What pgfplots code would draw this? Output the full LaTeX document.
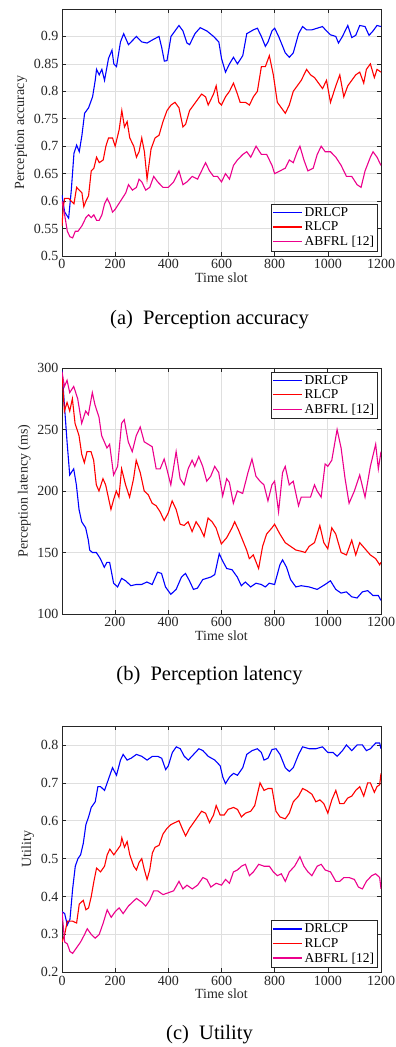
\documentclass[border=0pt]{standalone}
\usepackage{pgfplots}
\pgfplotsset{compat=1.18}
\usepackage{fontspec}
\setmainfont{Liberation Serif}
\definecolor{axgray}{RGB}{38,38,38}
\definecolor{gridgray}{RGB}{223,223,223}
\pgfplotsset{
 legend image code/.code={\draw[#1, line width=1.5pt] (0pt,0.3pt) -- (29pt,0.3pt);},
 mystyle/.style={
  scale only axis, width=319pt,
  xmax=1200,
  tick align=inside, xtick pos=both, ytick pos=both,
  major tick length=4pt,
  grid=major, major grid style={gridgray, line width=0.6pt},
  axis line style={axgray, line width=0.6pt},
  tick style={axgray, line width=0.6pt},
  tick label style={font=\fontsize{14}{16}\selectfont, text=axgray},
  label style={font=\fontsize{14}{16}\selectfont, text=axgray},
  /pgf/number format/assume math mode=true,
  /pgf/number format/set thousands separator={},
  legend style={font=\fontsize{13.5}{16}\selectfont, draw=axgray, inner sep=1.5pt, cells={anchor=west}},
  every axis plot/.append style={line width=1.1pt},
  xlabel={Time slot},
  xlabel style={yshift=3pt},
 }
}
\begin{document}
\begin{tikzpicture}
\useasboundingbox (0pt,0pt) rectangle (396pt,1047pt);
% ---------- (a) ----------
\begin{axis}[mystyle, at={(62pt,791pt)}, anchor=south west, height=247pt,
  xmin=0, ymin=0.5, ymax=0.95,
  xtick={0,200,400,600,800,1000,1200},
  ytick={0.5,0.55,0.6,0.65,0.7,0.75,0.8,0.85,0.9},
  yticklabels={0.5,0.55,0.6,0.65,0.7,0.75,0.8,0.85,0.9},
  ylabel={Perception accuracy},
  legend style={at={(0.99,0.02)}, anchor=south east}]
\addplot[blue] coordinates {(0,0.611)(10,0.58)(25,0.569)(35,0.62)(45,0.687)(55,0.702)(65,0.69)(75,0.72)(85,0.76)(100,0.77)(115,0.79)(125,0.82)(130,0.84)(140,0.83)(150,0.84)(160,0.82)(175,0.86)(188,0.875)(195,0.85)(205,0.845)(220,0.89)(232,0.905)(250,0.885)(270,0.895)(280,0.90)(300,0.89)(320,0.888)(345,0.895)(365,0.90)(375,0.88)(385,0.855)(395,0.856)(410,0.90)(440,0.92)(455,0.91)(470,0.888)(480,0.885)(500,0.905)(520,0.916)(545,0.91)(570,0.90)(590,0.89)(600,0.86)(615,0.835)(630,0.85)(645,0.862)(660,0.85)(680,0.865)(695,0.905)(720,0.912)(735,0.915)(750,0.90)(765,0.882)(775,0.89)(790,0.91)(800,0.915)(815,0.90)(840,0.87)(855,0.862)(870,0.87)(890,0.905)(905,0.918)(920,0.912)(940,0.912)(960,0.915)(980,0.918)(995,0.91)(1010,0.903)(1030,0.90)(1040,0.888)(1055,0.90)(1070,0.915)(1075,0.92)(1090,0.898)(1105,0.902)(1120,0.92)(1140,0.918)(1155,0.902)(1170,0.91)(1185,0.92)(1200,0.918)};
\addlegendentry{DRLCP}
\addplot[red] coordinates {(0,0.555)(5,0.59)(10,0.605)(25,0.605)(35,0.60)(45,0.595)(55,0.625)(65,0.62)(75,0.615)(82,0.59)(90,0.60)(100,0.61)(110,0.655)(120,0.66)(130,0.68)(140,0.67)(155,0.675)(165,0.70)(175,0.715)(190,0.715)(200,0.70)(215,0.73)(225,0.765)(235,0.735)(245,0.745)(255,0.715)(270,0.70)(280,0.68)(290,0.69)(300,0.715)(310,0.69)(320,0.64)(335,0.695)(350,0.715)(365,0.72)(380,0.745)(395,0.765)(410,0.775)(425,0.78)(440,0.77)(455,0.735)(465,0.74)(480,0.765)(495,0.775)(510,0.785)(525,0.795)(540,0.79)(550,0.775)(570,0.795)(580,0.81)(590,0.78)(600,0.775)(615,0.79)(630,0.80)(645,0.815)(660,0.795)(670,0.78)(690,0.78)(705,0.775)(720,0.79)(735,0.80)(750,0.845)(765,0.845)(780,0.865)(795,0.83)(810,0.78)(825,0.77)(840,0.76)(855,0.775)(870,0.80)(885,0.81)(900,0.82)(920,0.84)(935,0.83)(950,0.825)(965,0.815)(980,0.805)(995,0.82)(1010,0.78)(1030,0.81)(1045,0.83)(1060,0.79)(1075,0.81)(1090,0.82)(1105,0.83)(1120,0.835)(1135,0.815)(1145,0.84)(1160,0.85)(1175,0.825)(1185,0.84)(1200,0.835)};
\addlegendentry{RLCP}
\addplot[magenta] coordinates {(0,0.60)(10,0.575)(20,0.545)(30,0.535)(40,0.533)(50,0.545)(60,0.545)(75,0.555)(90,0.57)(100,0.575)(110,0.57)(120,0.575)(130,0.565)(140,0.565)(150,0.575)(160,0.595)(170,0.605)(180,0.595)(190,0.58)(200,0.585)(220,0.60)(240,0.615)(250,0.63)(265,0.62)(280,0.625)(290,0.64)(300,0.635)(315,0.62)(330,0.625)(345,0.645)(360,0.635)(380,0.625)(400,0.625)(420,0.635)(440,0.655)(455,0.63)(470,0.635)(490,0.645)(510,0.64)(530,0.66)(540,0.67)(555,0.655)(570,0.645)(585,0.645)(600,0.635)(615,0.65)(630,0.64)(645,0.665)(660,0.675)(680,0.685)(695,0.69)(710,0.68)(730,0.70)(750,0.685)(770,0.685)(790,0.665)(800,0.65)(820,0.655)(840,0.66)(855,0.675)(870,0.67)(885,0.69)(895,0.70)(910,0.675)(925,0.655)(945,0.66)(960,0.685)(975,0.70)(990,0.69)(1010,0.69)(1030,0.68)(1050,0.665)(1070,0.645)(1090,0.645)(1110,0.63)(1125,0.625)(1140,0.655)(1160,0.68)(1170,0.69)(1185,0.68)(1200,0.665)};
\addlegendentry{ABFRL [12]}
\end{axis}
% ---------- (b) ----------
\begin{axis}[mystyle, at={(62pt,433pt)}, anchor=south west, height=246pt,
  xmin=1, ymin=100, ymax=300,
  xtick={200,400,600,800,1000,1200},
  ytick={100,150,200,250,300},
  ylabel={Perception latency (ms)},
  legend style={at={(0.99,0.985)}, anchor=north east}]
\addplot[blue] coordinates {(1,298)(10,270)(20,240)(30,213)(45,218)(55,205)(65,185)(75,175)(90,170)(100,160)(105,152)(115,150)(130,150)(145,145)(160,138)(170,142)(180,142)(195,125)(210,122)(225,129)(240,127)(260,123)(280,124)(300,124)(320,126)(340,124)(360,134)(375,133)(390,122)(410,116)(430,120)(450,130)(465,133)(480,127)(495,120)(510,121)(530,128)(560,130)(575,132)(592,149)(605,143)(620,137)(640,136)(660,130)(675,123)(690,126)(710,122)(730,125)(750,124)(765,122)(780,125)(800,124)(820,140)(830,144)(845,138)(860,128)(880,122)(900,123)(930,122)(960,120)(990,124)(1010,127)(1030,120)(1050,117)(1070,118)(1090,114)(1110,113)(1130,118)(1150,119)(1170,115)(1190,115)(1200,111)};
\addlegendentry{DRLCP}
\addplot[red] coordinates {(1,295)(10,265)(20,272)(30,265)(40,275)(50,255)(65,245)(75,230)(85,223)(95,232)(110,232)(120,225)(130,205)(140,200)(155,210)(165,205)(175,195)(185,185)(195,193)(205,200)(215,195)(225,218)(240,205)(255,195)(270,210)(280,225)(295,215)(310,200)(325,197)(340,190)(355,188)(370,183)(385,176)(400,182)(415,192)(430,185)(445,173)(460,172)(475,175)(490,167)(505,175)(520,170)(535,163)(550,178)(565,175)(580,170)(600,157)(620,162)(640,170)(650,175)(665,168)(680,160)(695,152)(705,145)(720,148)(740,137)(755,155)(770,165)(790,170)(800,173)(820,165)(840,158)(860,155)(880,152)(900,151)(915,150)(930,155)(950,158)(970,172)(985,158)(1000,153)(1015,170)(1030,165)(1050,150)(1070,148)(1090,160)(1105,148)(1120,158)(1140,153)(1160,148)(1180,145)(1195,140)(1200,142)};
\addlegendentry{RLCP}
\addplot[magenta] coordinates {(1,297)(10,285)(20,290)(30,280)(45,285)(60,275)(75,255)(90,265)(100,262)(115,280)(125,270)(140,260)(150,245)(160,240)(170,235)(180,238)(195,213)(210,220)(225,255)(235,258)(250,240)(265,232)(280,245)(295,252)(310,240)(325,238)(340,236)(355,218)(370,218)(385,226)(395,218)(410,205)(430,232)(445,210)(460,205)(475,218)(490,225)(500,220)(515,228)(530,220)(545,208)(560,212)(575,220)(590,215)(605,196)(620,210)(630,207)(645,190)(660,200)(680,198)(700,215)(715,226)(730,212)(745,208)(760,205)(775,192)(790,205)(800,208)(815,183)(830,215)(840,220)(855,205)(870,208)(890,188)(900,195)(920,195)(935,195)(950,205)(960,200)(975,195)(990,222)(1000,220)(1015,225)(1035,250)(1050,235)(1065,210)(1080,190)(1100,200)(1120,213)(1140,195)(1160,220)(1180,238)(1190,218)(1200,232)};
\addlegendentry{ABFRL [12]}
\end{axis}
% ---------- (c) ----------
\begin{axis}[mystyle, at={(62pt,74.7pt)}, anchor=south west, height=246.3pt,
  xmin=0, ymin=0.2, ymax=0.85,
  xtick={0,200,400,600,800,1000,1200},
  ytick={0.2,0.3,0.4,0.5,0.6,0.7,0.8},
  yticklabels={0.2,0.3,0.4,0.5,0.6,0.7,0.8},
  ylabel={Utility},
  legend style={at={(0.99,0.02)}, anchor=south east}]
\addplot[blue] coordinates {(0,0.36)(10,0.355)(20,0.325)(30,0.34)(40,0.42)(50,0.48)(60,0.50)(70,0.51)(80,0.54)(90,0.59)(100,0.61)(110,0.635)(125,0.65)(135,0.69)(145,0.69)(160,0.68)(175,0.71)(190,0.74)(205,0.72)(220,0.76)(230,0.775)(245,0.76)(260,0.765)(280,0.775)(300,0.77)(320,0.76)(340,0.77)(360,0.77)(375,0.765)(390,0.735)(400,0.745)(415,0.78)(430,0.795)(445,0.79)(460,0.77)(475,0.76)(495,0.775)(515,0.79)(530,0.785)(550,0.77)(575,0.76)(595,0.745)(605,0.715)(615,0.698)(630,0.715)(645,0.725)(660,0.72)(680,0.74)(695,0.775)(715,0.785)(735,0.79)(750,0.78)(760,0.76)(775,0.765)(790,0.788)(805,0.79)(820,0.775)(840,0.74)(855,0.73)(870,0.74)(890,0.775)(905,0.795)(930,0.79)(955,0.79)(980,0.795)(1000,0.78)(1020,0.78)(1035,0.77)(1055,0.785)(1070,0.80)(1090,0.785)(1110,0.80)(1130,0.80)(1145,0.785)(1160,0.79)(1180,0.805)(1195,0.805)(1200,0.79)};
\addlegendentry{DRLCP}
\addplot[red] coordinates {(0,0.28)(10,0.30)(20,0.335)(40,0.335)(55,0.33)(65,0.38)(80,0.39)(90,0.365)(100,0.37)(110,0.40)(120,0.44)(130,0.475)(145,0.465)(160,0.48)(170,0.51)(180,0.525)(195,0.51)(205,0.52)(220,0.535)(225,0.555)(235,0.53)(245,0.545)(255,0.51)(270,0.48)(280,0.47)(290,0.49)(300,0.50)(310,0.47)(320,0.445)(330,0.47)(340,0.515)(350,0.53)(365,0.535)(380,0.565)(395,0.58)(410,0.59)(425,0.595)(440,0.60)(455,0.575)(465,0.56)(480,0.58)(495,0.595)(510,0.61)(525,0.625)(540,0.62)(555,0.595)(570,0.615)(580,0.64)(595,0.615)(610,0.615)(625,0.63)(645,0.635)(660,0.63)(675,0.61)(690,0.62)(710,0.625)(725,0.64)(745,0.70)(760,0.68)(775,0.685)(790,0.685)(805,0.625)(820,0.61)(840,0.605)(855,0.62)(870,0.65)(890,0.665)(905,0.685)(920,0.68)(940,0.67)(955,0.65)(970,0.655)(985,0.645)(1000,0.62)(1015,0.655)(1030,0.68)(1045,0.645)(1060,0.645)(1075,0.66)(1090,0.665)(1105,0.68)(1120,0.69)(1135,0.665)(1150,0.70)(1160,0.70)(1175,0.675)(1185,0.69)(1195,0.695)(1200,0.725)};
\addlegendentry{RLCP}
\addplot[magenta] coordinates {(0,0.36)(10,0.28)(20,0.275)(30,0.255)(40,0.25)(55,0.265)(70,0.28)(85,0.30)(95,0.315)(110,0.30)(125,0.29)(140,0.30)(155,0.33)(170,0.365)(185,0.345)(200,0.36)(215,0.37)(230,0.355)(250,0.375)(265,0.385)(280,0.395)(300,0.385)(315,0.375)(330,0.39)(345,0.415)(360,0.415)(380,0.405)(400,0.41)(420,0.415)(440,0.44)(455,0.42)(470,0.43)(490,0.42)(510,0.43)(530,0.45)(545,0.445)(560,0.425)(580,0.435)(600,0.43)(615,0.445)(630,0.435)(645,0.465)(660,0.47)(675,0.48)(690,0.485)(705,0.455)(720,0.465)(740,0.485)(760,0.48)(780,0.48)(795,0.465)(810,0.455)(825,0.46)(840,0.44)(855,0.465)(875,0.48)(895,0.505)(910,0.48)(925,0.465)(940,0.455)(960,0.48)(975,0.485)(990,0.47)(1010,0.465)(1030,0.44)(1045,0.44)(1060,0.45)(1080,0.45)(1100,0.445)(1115,0.425)(1130,0.42)(1145,0.44)(1165,0.455)(1180,0.46)(1195,0.45)(1200,0.42)};
\addlegendentry{ABFRL [12]}
\end{axis}
% captions
\node[font=\fontsize{20.5}{24}\selectfont] at (209.5pt,727pt) {(a)\ \ Perception accuracy};
\node[font=\fontsize{20.5}{24}\selectfont] at (209.5pt,371pt) {(b)\ \ Perception latency};
\node[font=\fontsize{20.5}{24}\selectfont] at (209.5pt,12pt) {(c)\ \ Utility};
\end{tikzpicture}
\end{document}
